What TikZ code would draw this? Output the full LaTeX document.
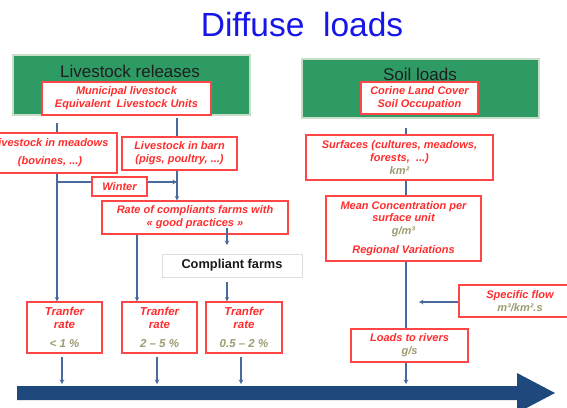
\documentclass[tikz,border=0pt]{standalone}
\usepackage{fontspec}
\setmainfont{Liberation Sans}
\usetikzlibrary{arrows.meta}
\definecolor{titleblue}{RGB}{22,22,232}
\definecolor{boxgreen}{RGB}{46,154,100}
\definecolor{greenborder}{RGB}{200,222,200}
\definecolor{boxred}{RGB}{255,70,70}
\definecolor{txtred}{RGB}{255,45,45}
\definecolor{olivetxt}{RGB}{158,155,112}
\definecolor{lineblue}{RGB}{72,106,156}
\definecolor{bigblue}{RGB}{31,73,125}
\definecolor{graybox}{RGB}{222,222,222}
\newcommand{\redfnt}{\fontsize{11}{12.8}\selectfont\bfseries\itshape}
\newcommand{\olv}[1]{\textcolor{olivetxt}{#1}}
\tikzset{
  redbox/.style={draw=boxred, line width=1.1pt, fill=white, align=center, text=txtred, font=\redfnt, inner sep=1pt},
  greenbox/.style={draw=greenborder, line width=1.5pt, fill=boxgreen, inner sep=0pt},
  conn/.style={draw=lineblue, line width=1.1pt},
  arr/.style={conn, -{Stealth[length=4.5pt,width=4.5pt]}},
  headtxt/.style={anchor=base, font=\fontsize{17}{17}\selectfont, text=black!88},
}
\begin{document}
\begin{tikzpicture}[x=1pt,y=-1pt]
\useasboundingbox (0,0) rectangle (567,407);
\clip (0,0) rectangle (567,407);
% title
\node[anchor=base, font=\fontsize{33.5}{33.5}\selectfont, text=titleblue, inner sep=0pt] (title) at (302,36) {Diffuse\ \ loads};
% green headers
\node[greenbox, minimum width=237pt, minimum height=60pt] (gl) at (131.5,85) {};
\node[headtxt, inner sep=0pt] (glt) at (130,77) {Livestock releases};
\node[greenbox, minimum width=237pt, minimum height=59pt] (gr) at (420.5,88.5) {};
\node[headtxt, inner sep=0pt] (grt) at (420,80) {Soil loads};
% left column boxes
\node[redbox, minimum width=169pt, minimum height=33pt] (muni) at (126.5,98.5) {Municipal livestock\\Equivalent\ \ Livestock Units};
\node[redbox, minimum width=134pt, minimum height=40pt] (meadows) at (50,153) {Livestock in meadows\\[5pt](bovines, ...)};
\node[redbox, minimum width=115pt, minimum height=33pt] (barn) at (179.5,153.5) {Livestock in barn\\(pigs, poultry, ...)};
\node[redbox, minimum width=55pt, minimum height=19pt] (winter) at (119.5,186.5) {Winter};
\node[redbox, minimum width=186pt, minimum height=33pt] (rate) at (195,217.5) {Rate of compliants farms with\\« good practices »};
\node[draw=graybox, line width=0.8pt, fill=white, minimum width=140pt, minimum height=23pt, font=\fontsize{12.8}{13}\selectfont\bfseries, text=black!90] (comp) at (232,265.5) {Compliant farms};
\node[redbox, minimum width=75pt, minimum height=51pt, font=\fontsize{11.5}{13}\selectfont\bfseries\itshape] (t1) at (64.5,327.5) {Tranfer\\rate\\[6pt]\olv{< 1 \%}};
\node[redbox, minimum width=75pt, minimum height=51pt, font=\fontsize{11.5}{13}\selectfont\bfseries\itshape] (t2) at (159.5,327.5) {Tranfer\\rate\\[6pt]\olv{2 – 5 \%}};
\node[redbox, minimum width=76pt, minimum height=51pt, font=\fontsize{11.5}{13}\selectfont\bfseries\itshape] (t3) at (244,327.5) {Tranfer\\rate\\[6pt]\olv{0.5 – 2 \%}};
% right column boxes
\node[redbox, minimum width=117pt, minimum height=32pt] (corine) at (419.5,98) {Corine Land Cover\\Soil Occupation};
\node[redbox, minimum width=187pt, minimum height=45pt] (surf) at (399.5,157.5) {Surfaces (cultures, meadows,\\forests,\ \ ...)\\\olv{km²}};
\node[redbox, minimum width=155pt, minimum height=65pt] (mean) at (403.5,228.5) {Mean Concentration per\\surface unit\\\olv{g/m³}\\[6pt]Regional Variations};
\node[redbox, minimum width=117pt, minimum height=33pt] (loads) at (409.5,345.5) {Loads to rivers\\\olv{g/s}};
\node[redbox, minimum width=122pt, minimum height=32pt] (spec) at (520,301) {Specific flow\\\olv{m³/km².s}};
% coordinates
\coordinate (mtop) at (57,123);
\coordinate (btop) at (177,118);
\coordinate (wl) at (57,182);
\coordinate (r2) at (137,0);
\coordinate (cstart) at (227,228);
\coordinate (cend) at (227,245);
\coordinate (c3) at (227,282);
\coordinate (riv) at (0,384);
\coordinate (a1) at (62,357);
\coordinate (a2) at (157,357);
\coordinate (a3) at (241,357);
\coordinate (s0) at (406,128);
\coordinate (sp) at (419,302);
% left connectors
\draw[conn] (mtop) -- (mtop |- meadows.north);
\draw[conn] (btop) -- (btop |- barn.north);
\draw[arr] (meadows.south -| mtop) -- (mtop |- t1.north);
\draw[conn] (wl) -- (winter.west |- wl);
\draw[arr] (winter.east |- wl) -- (wl -| btop);
\draw[arr] (barn.south -| btop) -- (btop |- rate.north);
\draw[arr] (rate.south -| r2) -- (r2 |- t2.north);
\draw[arr] (cstart) -- (cend);
\draw[arr] (c3) -- (c3 |- t3.north);
\draw[arr] (a1) -- (a1 |- riv);
\draw[arr] (a2) -- (a2 |- riv);
\draw[arr] (a3) -- (a3 |- riv);
% right connectors
\draw[conn] (s0) -- (s0 |- surf.north);
\draw[conn] (surf.south -| s0) -- (s0 |- mean.north);
\draw[conn] (mean.south -| s0) -- (s0 |- loads.north);
\draw[arr] (loads.south -| s0) -- (s0 |- riv);
\draw[arr] (spec.west |- sp) -- (sp);
% big river arrow
\fill[bigblue] (17,386) -- (517,386) -- (517,373) -- (555,393) -- (517,413) -- (517,400) -- (17,400) -- cycle;
\end{tikzpicture}
\end{document}
